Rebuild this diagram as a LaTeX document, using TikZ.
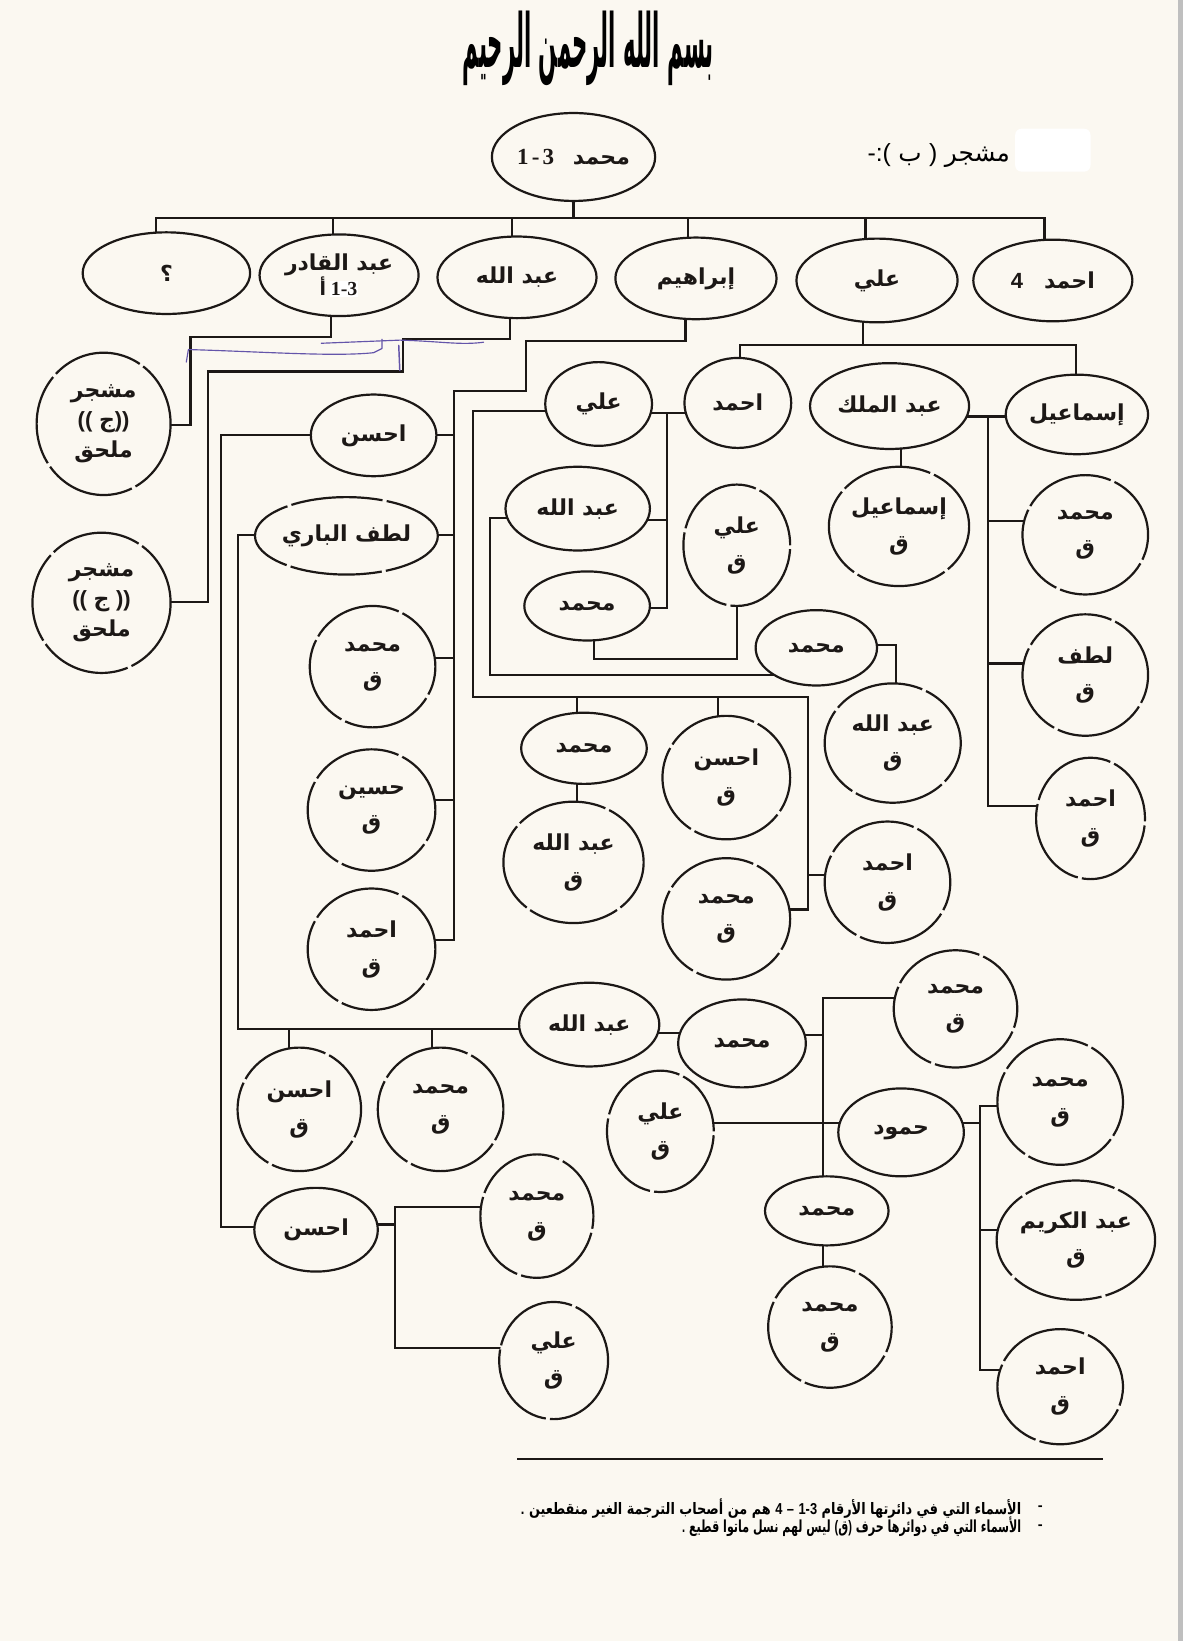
\documentclass[tikz,border=0pt]{standalone}
\usepackage{fontspec}
\usepackage{graphicx}
\usetikzlibrary{shapes.geometric}
\TeXXeTstate=1
\newfontfamily\arf[Script=Arabic]{DejaVu Sans}
\newfontfamily\latf{Liberation Sans}
\newfontfamily\serf{Liberation Serif}
\newcommand\AR[1]{{\arf\bfseries\beginR #1\endR}}
\newcommand\ARr[1]{{\arf\beginR #1\endR}}
\newcommand\LT[1]{{\latf\bfseries #1}}
\newcommand\LTr[1]{{\latf #1}}
\newcommand\NQ[1]{\AR{#1}\\\AR{ق}}
\definecolor{paper}{RGB}{251,248,241}
\definecolor{ink}{RGB}{28,24,22}
\definecolor{pen}{RGB}{100,85,170}
\pgfdeclarelayer{paperlayer}
\pgfdeclarelayer{wires}
\pgfsetlayers{paperlayer,wires,main}
\tikzset{
  nd/.style={ellipse, draw=ink, line width=2.1pt, fill=paper, inner sep=0pt,
    align=center, text=ink, font=\fontsize{21}{34}\selectfont},
  sz/.style 2 args={minimum width=#1pt, minimum height=#2pt},
  brk/.style={dash pattern=on 88pt off 4pt, dash phase=25pt},
  wire/.style={draw=ink, line width=2pt, line cap=rect, line join=miter},
  penline/.style={draw=pen, line width=1.1pt, line cap=round, line join=round}
}
\begin{document}
\begin{tikzpicture}[x=1pt,y=-1pt]
\useasboundingbox (0,0) rectangle (1130,1568);
\begin{pgfonlayer}{paperlayer}
  \fill[paper] (0,0) rectangle (1130,1568);
  \fill[black!25] (1126,0) rectangle (1130,1568);
\end{pgfonlayer}

% title and heading
\node (title) at (562,46) {\resizebox{240pt}{54pt}{\arf\bfseries\beginR بسم الله الرحمن الرحيم\endR}};
\fill[white, rounded corners=6pt] (970,123) rectangle (1042,164);
\node (label) at (897,149) {\resizebox{136pt}{!}{\fontsize{18}{20}\selectfont\LTr{-:(}\ \ARr{ب}\ \LTr{)}\ \ARr{مشجر}}};

% level 0 and 1
\node[nd,sz={156}{84}] (root) at (548,150) {{\serf\bfseries\fontsize{22}{24}\selectfont 1\hspace{3pt}-\hspace{3pt}3}\hspace{18pt}\AR{محمد}};
\node[nd,sz={160}{78}] (q) at (159,261) {\AR{؟}};
\node[nd,sz={152}{78}] (abdq) at (324,263) {\AR{عبد القادر}\\[-10pt]{\arf\bfseries\fontsize{18}{20}\selectfont أ}\,{\fboxsep=1pt\colorbox{white}{\serf\bfseries\fontsize{19}{20}\selectfont 1-3}}};
\node[nd,sz={152}{78}] (abdl1) at (494,265) {\AR{عبد الله}};
\node[nd,sz={154}{78}] (ibr) at (665,266) {\AR{إبراهيم}};
\node[nd,sz={154}{80}] (ali1) at (838,268) {\AR{علي}};
\node[nd,sz={152}{78}] (ahm4) at (1006,268) {\LT{4}\hspace{20pt}\AR{احمد}};

% left side
\node[nd,brk,sz={128}{136},font=\fontsize{21}{29}\selectfont] (m1) at (99,405) {\AR{مشجر}\\\LT{((}\ {\arf\bfseries ج}\LT{))}\\\AR{ملحق}};
\node[nd,brk,sz={132}{134},font=\fontsize{21}{29}\selectfont] (m2) at (97,576) {\AR{مشجر}\\\LT{((}\ {\arf\bfseries ج}\ \LT{))}\\\AR{ملحق}};
\node[nd,sz={120}{78}] (ahsan1) at (357,416) {\AR{احسن}};
\node[nd,brk,sz={172}{74}] (lutf) at (331,512) {\AR{لطف الباري}};
\node[nd,brk,sz={120}{116}] (mq1) at (356,637) {\NQ{محمد}};
\node[nd,brk,sz={122}{116}] (husq) at (355,774) {\NQ{حسين}};
\node[nd,brk,sz={122}{116}] (ahq1) at (355,907) {\NQ{احمد}};

% middle upper
\node[nd,sz={102}{86}] (ahmad2) at (705,385) {\AR{احمد}};
\node[nd,sz={102}{80}] (ali2) at (572,386) {\AR{علي}};
\node[nd,sz={152}{82}] (abdm) at (850,388) {\AR{عبد الملك}};
\node[nd,sz={136}{76}] (ism2) at (1029,396) {\AR{إسماعيل}};
\node[nd,sz={138}{80}] (abdl2) at (552,486) {\AR{عبد الله}};
\node[nd,sz={120}{66}] (m3) at (561,579) {\AR{محمد}};
\node[nd,brk,sz={102}{116}] (aliq1) at (704,521) {\NQ{علي}};
\node[nd,brk,sz={134}{114}] (ismq) at (859,503) {\NQ{إسماعيل}};
\node[nd,brk,sz={120}{114}] (mq8) at (1037,511) {\NQ{محمد}};
\node[nd,brk,sz={120}{116}] (lutfq) at (1037,645) {\NQ{لطف}};
\node[nd,brk,sz={104}{116}] (ahq4) at (1042,782) {\NQ{احمد}};
\node[nd,sz={116}{72}] (m5) at (780,619) {\AR{محمد}};
\node[nd,brk,sz={130}{114}] (abdlq) at (853,710) {\NQ{عبد الله}};
\node[nd,sz={120}{68}] (m6) at (558,715) {\AR{محمد}};
\node[nd,brk,sz={134}{116}] (abdlq2) at (548,824) {\NQ{عبد الله}};
\node[nd,brk,sz={122}{118}] (ahsq) at (694,743) {\NQ{احسن}};
\node[nd,brk,sz={122}{116}] (mq7) at (694,878) {\NQ{محمد}};
\node[nd,brk,sz={120}{116}] (ahq3) at (848,843) {\NQ{احمد}};

% lower part
\node[nd,sz={134}{80}] (abdl3) at (563,979) {\AR{عبد الله}};
\node[nd,brk,sz={118}{118}] (ahq2) at (286,1060) {\NQ{احسن}};
\node[nd,brk,sz={120}{118}] (mq2) at (421,1060) {\NQ{محمد}};
\node[nd,sz={122}{84}] (mid) at (709,997) {\AR{محمد}};
\node[nd,brk,sz={118}{112}] (mq3) at (913,964) {\NQ{محمد}};
\node[nd,brk,sz={102}{116}] (aliq2) at (631,1081) {\NQ{علي}};
\node[nd,sz={120}{84}] (hamud) at (861,1082) {\AR{حمود}};
\node[nd,sz={118}{66}] (m4) at (790,1157) {\AR{محمد}};
\node[nd,brk,sz={118}{116}] (mq4) at (793,1268) {\NQ{محمد}};
\node[nd,brk,sz={120}{120}] (mq5) at (1013,1053) {\NQ{محمد}};
\node[nd,brk,sz={150}{114}] (abdk) at (1028,1185) {\NQ{عبد الكريم}};
\node[nd,brk,sz={120}{110}] (ahq5) at (1013,1325) {\NQ{احمد}};
\node[nd,sz={118}{80}] (ahsan3) at (302,1175) {\AR{احسن}};
\node[nd,brk,sz={108}{118}] (mq6) at (513,1162) {\NQ{محمد}};
\node[nd,brk,sz={104}{112}] (aliq3) at (529,1300) {\NQ{علي}};

% connectors
\begin{pgfonlayer}{wires}
\draw[wire] (root.center) -- (548,208);
\draw[wire] (149,208) -- (998,208);
\foreach \n/\x in {q/149,abdq/318,abdl1/489,ibr/657,ali1/827,ahm4/998}
  \draw[wire] (\x,208) -- (\n.center -| \x,0);
\draw[wire] (abdq.center -| 316,0) -- (316,322) -- (182,322) -- (182,406) -- (m1.center |- 0,406);
\draw[wire] (abdl1.center -| 487,0) -- (487,324) -- (385,324) -- (385,355) -- (199,355) -- (199,575) -- (m2.center |- 0,575);
\draw[wire] (ibr.center -| 655,0) -- (655,326) -- (503,326) -- (503,374) -- (434,374) -- (434,898);
\foreach \n/\y in {ahsan1/416,lutf/511,mq1/629,husq/764,ahq1/898}
  \draw[wire] (434,\y) -- (\n.center |- 0,\y);
\draw[wire] (ahsan1.center |- 0,416) -- (211,416) -- (211,1172) -- (ahsan3.center |- 0,1172);
\draw[wire] (lutf.center |- 0,511) -- (227,511) -- (227,983) -- (abdl3.center |- 0,983);
\draw[wire] (276,983) -- (ahq2.center -| 276,0);
\draw[wire] (413,983) -- (mq2.center -| 413,0);
\draw[wire] (abdl3.center |- 0,987) -- (mid.center |- 0,987);
\draw[wire] (mid.center |- 0,989) -- (786,989);
\draw[wire] (mq3.center |- 0,954) -- (786,954) -- (mq4.center -| 786,0);
\draw[wire] (aliq2.center |- 0,1073) -- (hamud.center |- 0,1073);
\draw[wire] (hamud.center |- 0,1073) -- (936,1073);
\draw[wire] (mq5.center |- 0,1057) -- (936,1057) -- (936,1309) -- (ahq5.center |- 0,1309);
\draw[wire] (936,1175) -- (abdk.center |- 0,1175);
\draw[wire] (ahsan3.center |- 0,1170) -- (377,1170);
\draw[wire] (mq6.center |- 0,1153) -- (377,1153) -- (377,1288) -- (aliq3.center |- 0,1288);
\draw[wire] (ali1.center -| 825,0) -- (825,330);
\draw[wire] (ahmad2.center -| 707,0) -- (707,330) -- (1028,330) -- (ism2.center -| 1028,0);
\draw[wire] (ali2.center |- 0,395) -- (ahmad2.center |- 0,395);
\draw[wire] (637,395) -- (637,581);
\draw[wire] (637,497) -- (abdl2.center |- 0,497);
\draw[wire] (637,581) -- (m3.center |- 0,581);
\draw[wire] (m3.center -| 568,0) -- (568,630) -- (704,630) -- (aliq1.center -| 704,0);
\draw[wire] (abdl2.center |- 0,495) -- (468,495) -- (468,645) -- (m5.center |- 0,645);
\draw[wire] (m5.center |- 0,616) -- (856,616) -- (abdlq.center -| 856,0);
\draw[wire] (ali2.center |- 0,393) -- (452,393) -- (452,666) -- (772,666) -- (772,869) -- (mq7.center |- 0,869);
\draw[wire] (551,666) -- (m6.center -| 551,0) -- (abdlq2.center -| 551,0);
\draw[wire] (686,666) -- (ahsq.center -| 686,0);
\draw[wire] (772,836) -- (ahq3.center |- 0,836);
\draw[wire] (abdm.center -| 861,0) -- (ismq.center -| 861,0);
\draw[wire] (abdm.center |- 0,398) -- (ism2.center |- 0,398);
\draw[wire] (944,398) -- (944,770) -- (ahq4.center |- 0,770);
\draw[wire] (944,498) -- (mq8.center |- 0,498);
\draw[wire] (944,634) -- (lutfq.center |- 0,634);
\end{pgfonlayer}

% blue pen marks
\draw[penline] (178,346) -- (180,334) .. controls (250,336) and (320,341) .. (357,337) -- (365,333) -- (365,324);
\draw[penline] (307,328) -- (382,325) .. controls (420,326) and (440,330) .. (462,327);
\draw[penline, line width=1.4pt] (381,330) -- (382,354);

% footer
\draw[ink, line width=1.4pt] (494,1394) -- (1054,1394);
\node[anchor=east, inner sep=0pt] (foot1) at (976,1441) {\resizebox{478pt}{15pt}{\arf\bfseries\beginR الأسماء التي في دائرتها الأرقام \LT{\beginL 1-3\endL} \LT{–} \LT{4} هم من أصحاب الترجمة الغير منقطعين \LT{.}\endR}};
\node[anchor=east, inner sep=0pt] (foot2) at (976,1459) {\resizebox{324pt}{15pt}{\arf\bfseries\beginR الأسماء التي في دوائرها حرف \LT{)}ق\LT{(} ليس لهم نسل ماتوا قطيع \LT{.}\endR}};
\node[inner sep=0pt] (dash1) at (994,1441) {\LT{\fontsize{14}{16}\selectfont -}};
\node[inner sep=0pt] (dash2) at (994,1459) {\LT{\fontsize{14}{16}\selectfont -}};
\end{tikzpicture}
\end{document}
